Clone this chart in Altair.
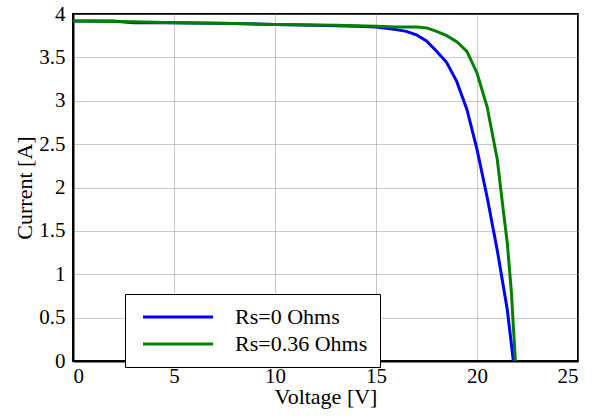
import altair as alt
import pandas as pd

series_names = ["Rs=0 Ohms", "Rs=0.36 Ohms"]
series_colors = ["#0000FF", "#008000"]

v_rs0 = [0, 2, 3, 5, 8, 10, 12, 14, 15, 16, 16.5, 17, 17.5, 18, 18.5, 19, 19.5, 20, 20.5, 21, 21.5, 21.8]
i_rs0 = [3.92, 3.92, 3.90, 3.90, 3.89, 3.88, 3.87, 3.86, 3.85, 3.82, 3.80, 3.76, 3.69, 3.57, 3.44, 3.22, 2.90, 2.44, 1.89, 1.28, 0.59, 0.0]

v_rs036 = [0, 3, 5, 8, 10, 13, 15, 16, 17, 17.5, 18, 18.5, 19, 19.5, 20, 20.5, 21, 21.3, 21.5, 21.7, 21.9]
i_rs036 = [3.92, 3.91, 3.90, 3.89, 3.88, 3.87, 3.86, 3.85, 3.85, 3.84, 3.80, 3.75, 3.68, 3.57, 3.32, 2.93, 2.33, 1.74, 1.36, 0.80, 0.0]

x_ticks = [0, 5, 10, 15, 20, 25]
y_ticks = [0, 0.5, 1, 1.5, 2, 2.5, 3, 3.5, 4]

rows = []
for k, (vs, cs) in enumerate([(v_rs0, i_rs0), (v_rs036, i_rs036)]):
    for j, (v, c) in enumerate(zip(vs, cs)):
        rows.append({"series": series_names[k], "V": v, "I": c, "order": j})
df = pd.DataFrame(rows)

FONT = "Liberation Serif"

chart = alt.Chart(df).mark_line(strokeWidth=3).encode(
    x=alt.X("V:Q", scale=alt.Scale(domain=[0, 25], nice=False),
            axis=alt.Axis(values=x_ticks, title="Voltage [V]", format="d")),
    y=alt.Y("I:Q", scale=alt.Scale(domain=[0, 4], nice=False),
            axis=alt.Axis(values=y_ticks, title="Current [A]", format="~g")),
    color=alt.Color("series:N", scale=alt.Scale(domain=series_names, range=series_colors),
                    legend=alt.Legend(title=None, orient="none", legendX=52, legendY=280,
                                      symbolType="M-1,0H13", symbolSize=100, symbolStrokeWidth=3,
                                      symbolOffset=0,
                                      labelFont=FONT, labelFontSize=22, labelColor="black",
                                      fillColor="white", strokeColor="black",
                                      padding=12, rowPadding=5, labelOffset=76, labelLimit=400)),
    order="order:Q",
).properties(
    width=505, height=347,
    autosize="none",
    padding={"left": 73, "top": 14, "right": 24, "bottom": 57},
).configure_view(
    stroke="black", strokeWidth=2
).configure_axis(
    labelFont=FONT, titleFont=FONT, labelFontSize=21, titleFontSize=22,
    labelColor="black", titleColor="black", titleFontWeight="normal",
    domainColor="black", domainWidth=2, ticks=False, labelPadding=6,
    gridColor="#888888", gridDash=[1, 1], gridWidth=1, gridOpacity=0.9,
).configure_axisX(
    titlePadding=0, labelPadding=4
).configure_axisY(
    titlePadding=2, labelPadding=8
)

chart.save("out.html", embed_options={"renderer": "svg", "actions": False})
